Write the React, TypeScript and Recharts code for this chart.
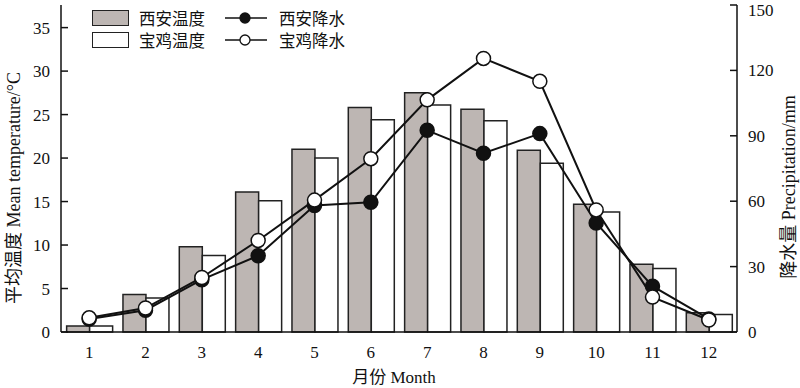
import React from 'react'
import { ComposedChart, Bar, Line, XAxis, YAxis } from 'recharts'

const months = ['1', '2', '3', '4', '5', '6', '7', '8', '9', '10', '11', '12']
const xianTemp = [0.7, 4.3, 9.8, 16.1, 21.0, 25.8, 27.5, 25.6, 20.9, 14.7, 7.8, 2.2]
const baojiTemp = [0.7, 3.9, 8.8, 15.1, 20.0, 24.4, 26.1, 24.3, 19.4, 13.8, 7.3, 2.0]
const xianPrec = [6, 10, 24, 35, 58, 59.5, 92.5, 82, 91, 50, 21, 6]
const baojiPrec = [6.5, 11, 25, 42, 60.5, 79.5, 106.5, 125.5, 115, 56, 16, 5.5]
const tempTicks = [0, 5, 10, 15, 20, 25, 30, 35]
const precTicks = [0, 30, 60, 90, 120, 150]

const data = months.map((m, i) => ({
  month: m,
  xianT: xianTemp[i],
  baojiT: baojiTemp[i],
  xianP: xianPrec[i],
  baojiP: baojiPrec[i],
}))

const FONT = '"Liberation Serif", "Noto Sans CJK SC", serif'
const CJK = '"Noto Sans CJK SC", sans-serif'
const GREY = '#bdb6b3'
const tick = { fill: '#111', fontSize: 17, fontFamily: FONT }

// legend drawn as an overlay so it does not push the plot area down
function LegendBox() {
  const row = (icon: React.ReactNode, label: string) => (
    <div style={{ display: 'flex', alignItems: 'center', height: 22 }}>
      {icon}
      <span style={{ fontSize: 16.5, fontFamily: CJK, color: '#111', lineHeight: '18px' }}>{label}</span>
    </div>
  )
  const rect = (fill: string) => (
    <div style={{ width: 35, height: 14, background: fill, border: '1.5px solid #222', marginRight: 10 }} />
  )
  const mark = (fill: string) => (
    <svg width={44} height={14} style={{ marginRight: 10 }}>
      <line x1={0} y1={7} x2={42} y2={7} stroke="#111" strokeWidth={1.5} />
      <circle cx={20} cy={7} r={5} fill={fill} stroke="#111" strokeWidth={1.3} />
    </svg>
  )
  return (
    <div style={{ position: 'absolute', left: 92, top: 7, display: 'flex', gap: 20 }}>
      <div>
        {row(rect(GREY), '西安温度')}
        {row(rect('#fff'), '宝鸡温度')}
      </div>
      <div>
        {row(mark('#111'), '西安降水')}
        {row(mark('#fff'), '宝鸡降水')}
      </div>
    </div>
  )
}

function Title({ cn, en, left, top, rotate, size }: { cn: string; en: string; left: number; top: number; rotate: boolean; size: number }) {
  return (
    <div style={{ position: 'absolute', left, top,
      transform: `translate(-50%, -50%)${rotate ? ' rotate(-90deg)' : ''}`,
      whiteSpace: 'nowrap', fontSize: size, lineHeight: `${size}px`, color: '#111' }}>
      <span style={{ fontFamily: CJK }}>{cn}</span>
      <span style={{ fontFamily: '"Liberation Serif", serif' }}> {en}</span>
    </div>
  )
}

export default function App() {
  return (
    <div style={{ position: 'absolute', left: 0, top: 0, width: 800, height: 388, background: '#fff', overflow: 'hidden' }}>
      <ComposedChart width={800} height={388} data={data} margin={{ top: 5, right: 0, bottom: 0, left: 0 }}
        barCategoryGap="10%" barGap={0}>
        <XAxis dataKey="month" height={56} tick={tick} tickLine={false} tickSize={0} tickMargin={14}
          axisLine={{ stroke: '#111', strokeWidth: 1.5 }} />
        <YAxis yAxisId="t" orientation="left" width={61} domain={[0, 37.6]} ticks={tempTicks}
          tick={tick} tickSize={-7} tickMargin={18}
          axisLine={{ stroke: '#111', strokeWidth: 1.5 }} tickLine={{ stroke: '#111', strokeWidth: 1.5 }} />
        <YAxis yAxisId="p" orientation="right" width={63} domain={[0, 150]} ticks={precTicks}
          tick={tick} tickSize={-7} tickMargin={18}
          axisLine={{ stroke: '#111', strokeWidth: 1.5 }} tickLine={{ stroke: '#111', strokeWidth: 1.5 }} />
        <Bar yAxisId="t" dataKey="xianT" name="西安温度" fill={GREY} stroke="#222" strokeWidth={1.5} isAnimationActive={false} />
        <Bar yAxisId="t" dataKey="baojiT" name="宝鸡温度" fill="#fff" stroke="#222" strokeWidth={1.5} isAnimationActive={false} />
        <Line yAxisId="p" dataKey="xianP" name="西安降水" type="linear" stroke="#111" strokeWidth={2}
          dot={{ r: 7, fill: '#111', stroke: '#111', strokeWidth: 1.5 }} activeDot={false} isAnimationActive={false} />
        <Line yAxisId="p" dataKey="baojiP" name="宝鸡降水" type="linear" stroke="#111" strokeWidth={2}
          dot={{ r: 7, fill: '#fff', stroke: '#111', strokeWidth: 1.5 }} activeDot={false} isAnimationActive={false} />
      </ComposedChart>
      <LegendBox />
      <Title cn="平均温度" en="Mean temperature/°C" left={13} top={188} rotate size={18} />
      <Title cn="降水量" en="Precipitation/mm" left={788} top={187} rotate size={18} />
      <Title cn="月份" en="Month" left={394} top={376} rotate={false} size={17} />
    </div>
  )
}
